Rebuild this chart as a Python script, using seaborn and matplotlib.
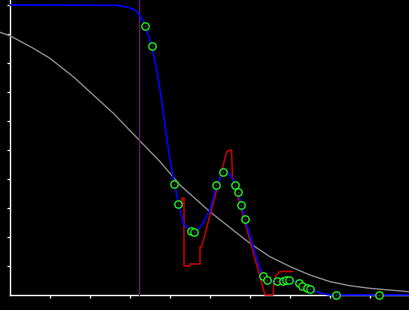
import numpy as np
import pandas as pd
import matplotlib
matplotlib.use("Agg")
import matplotlib.pyplot as plt
import seaborn as sns

# gray reference curve
gray_x = [-0.25, 0.0, 0.58, 1.0, 1.58, 2.08, 2.58, 3.23, 3.75, 4.25, 5.0, 5.42,
          6.0, 6.5, 7.0, 7.5, 8.0, 8.5, 9.0, 9.5, 10.0]
gray_y = [9.06, 8.94, 8.51, 8.16, 7.53, 6.90, 6.27, 5.34, 4.60, 3.79, 2.87, 2.41,
          1.78, 1.32, 0.98, 0.69, 0.46, 0.32, 0.23, 0.17, 0.11]

# blue fitted curve
blue_x = [0.0, 2.67, 2.85, 3.0, 3.125, 3.2, 3.29, 3.38, 3.54, 3.67, 3.79, 3.89,
          4.0, 4.11, 4.22, 4.33, 4.54, 4.65, 4.79, 5.0, 5.16, 5.33, 5.42, 5.5,
          5.63, 5.71, 5.78, 5.88, 6.08, 6.29, 6.42, 6.5, 6.75, 7.0, 7.125, 7.33,
          7.5, 7.67, 7.875, 8.0, 10.0]
blue_y = [10.0, 9.99, 9.95, 9.89, 9.83, 9.72, 9.54, 9.28, 8.59, 7.76, 6.72, 5.69,
          4.66, 3.82, 3.13, 2.47, 2.18, 2.19, 2.41, 2.93, 3.79, 4.23, 4.25, 4.17,
          3.79, 3.54, 3.10, 2.61, 1.67, 0.75, 0.52, 0.46, 0.48, 0.50, 0.47, 0.33,
          0.22, 0.11, 0.03, 0.0, 0.0]

# red step curve
red_x = [4.30, 4.30, 4.35, 4.35, 4.5, 4.5, 4.75, 4.75, 4.79, 5.42, 5.5, 5.54,
         5.56, 6.375, 6.575, 6.6, 6.65, 6.75, 7.075]
red_y = [3.07, 3.34, 3.34, 1.0, 1.0, 1.07, 1.07, 1.66, 1.66, 4.94, 5.0, 5.0,
         4.07, 0.0, 0.0, 0.45, 0.69, 0.81, 0.81]

# green sample points
pts_x = [3.38, 3.54, 4.11, 4.21, 4.53, 4.61, 5.16, 5.33, 5.63, 5.71, 5.78, 5.88,
         6.33, 6.43, 6.67, 6.83, 6.90, 6.98, 7.23, 7.29, 7.43, 7.51, 8.15, 9.23]
pts_y = [9.28, 8.59, 3.82, 3.13, 2.20, 2.17, 3.78, 4.23, 3.79, 3.54, 3.10, 2.61,
         0.64, 0.52, 0.48, 0.50, 0.51, 0.52, 0.40, 0.31, 0.23, 0.21, 0.0, 0.0]

vline_x = 3.225

sns.set_style("dark")
plt.rcParams['font.family'] = ['DejaVu Sans']

fig = plt.figure(figsize=(4.1, 3.1), dpi=100, facecolor='black')
ax = fig.add_axes([0, 0, 1, 1])
ax.set_facecolor('black')
ax.grid(False)

ytop = 295 / 29
ybot = -15 / 29

sns.lineplot(x=gray_x, y=gray_y, ax=ax, color='#8c8c8c', lw=1.0,
             sort=False, estimator=None)
ax.axvline(vline_x, ymin=(0 - ybot) / (ytop - ybot), ymax=1,
           color='#6a1a6a', lw=1.0)
sns.lineplot(x=red_x, y=red_y, ax=ax, color='#cc0000', lw=1.1,
             sort=False, estimator=None)
sns.lineplot(x=blue_x, y=blue_y, ax=ax, color='#0000ff', lw=1.2,
             sort=False, estimator=None)
sns.scatterplot(x=pts_x, y=pts_y, ax=ax, s=28, marker='o',
                facecolor='black', edgecolor='#22ee22', linewidth=1.0, zorder=5)
sns.scatterplot(x=pts_x, y=pts_y, ax=ax, s=1.2, marker='o',
                color='#116611', linewidth=0, zorder=6)

ax.set_xlim(-0.25, 10.0)
ax.set_ylim(ybot, ytop)

for s in ['top', 'right']:
    ax.spines[s].set_visible(False)
ax.spines['left'].set_position(('data', 0))
ax.spines['bottom'].set_position(('data', 0))
ax.spines['left'].set_bounds(0, ytop)
ax.spines['bottom'].set_bounds(0, 10)
for s in ['left', 'bottom']:
    ax.spines[s].set_color('white')
    ax.spines[s].set_linewidth(1.0)
    ax.spines[s].set_zorder(1)

ax.set_xticks(range(1, 10))
ax.set_yticks(range(1, 11))
ax.set_xticklabels([])
ax.set_yticklabels([])
ax.tick_params(axis='both', direction='out', length=2.5, width=0.9,
               color='white', bottom=True, left=True)
ax.set_xlabel('')
ax.set_ylabel('')

fig.savefig('out.png', dpi=100, facecolor='black')
